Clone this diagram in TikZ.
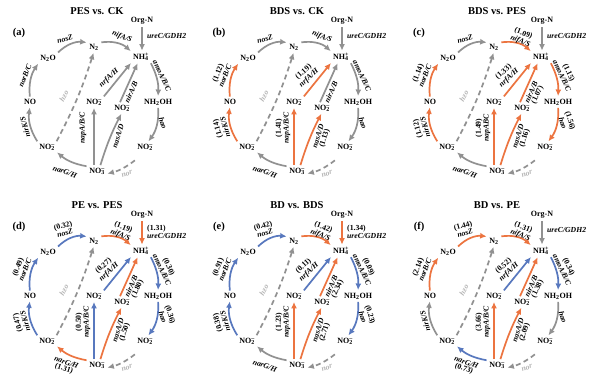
\documentclass[tikz,border=0pt]{standalone}
\usepackage{fontspec}
\setmainfont{Liberation Serif}
\usetikzlibrary{arrows.meta}
\definecolor{gr}{RGB}{145,145,145}
\definecolor{lgr}{RGB}{180,180,180}
\definecolor{org}{RGB}{236,116,64}
\definecolor{blu}{RGB}{88,120,190}
\newcommand\ssp[2]{\rlap{\textsubscript{#1}}\textsuperscript{#2}}
\newcommand\arr[3]{\tikzset{k-#1/.style={draw=#2}}\expandafter\def\csname av#1\endcsname{#3}}
\newcommand\resetarr{\arr{nosZ}{gr}{}\arr{nif}{gr}{}\arr{ure}{gr}{}\arr{amo}{gr}{}\arr{hao}{gr}{}\arr{nar}{gr}{}\arr{nirK}{gr}{}\arr{norB}{gr}{}\arr{nap}{gr}{}\arr{nas}{gr}{}\arr{nrf}{gr}{}\arr{nirA}{gr}{}}
\newcommand\hv[1]{\expandafter\ifx\csname av#1\endcsname\empty 0\else 1\fi}
\newcommand\val[1]{\expandafter\ifx\csname av#1\endcsname\empty\else(\csname av#1\endcsname)\fi}
% value above (first line)
\newcommand\GA[6]{%
 \node[gl, rotate=#2] (g#1) at ({#3+#6*\hv{#1}*sin(#2)},{#4-#6*\hv{#1}*cos(#2)}) {#5};
 \node[vl, rotate=#2, anchor=south] (v#1) at (g#1.north) {\val{#1}};}
% value below (second line)
\newcommand\GB[6]{%
 \node[gl, rotate=#2] (g#1) at ({#3-#6*\hv{#1}*sin(#2)},{#4+#6*\hv{#1}*cos(#2)}) {#5};
 \node[vl, rotate=#2, anchor=north] (v#1) at (g#1.south) {\val{#1}};}
\tikzset{
 nd/.style={font=\fontsize{8}{9}\selectfont\bfseries, inner sep=1pt},
 gl/.style={font=\fontsize{7.7}{8.4}\selectfont\bfseries\itshape, inner sep=0pt},
 vl/.style={font=\fontsize{7.7}{8.4}\selectfont\bfseries, inner sep=0.6pt},
 ttl/.style={font=\fontsize{10.5}{12}\selectfont\bfseries, inner sep=0pt},
 ar/.style={line width=1.7pt, -{Latex[length=6.5pt,width=6pt]}, shorten >=1.5pt, shorten <=1.5pt},
 dsh/.style={ar, draw=gr, dash pattern=on 5pt off 3.5pt},
}
\newcommand\panel[5]{%
\begin{scope}[shift={(#1,-#2)}, name prefix=#4-]
 \node[ttl] (T) at (97,-11) {#3};
 \node[ttl] (L) at (19,-33) {(#4)};
 \node[nd] (OrgN) at (142,-21) {Org-N};
 \node[nd] (N2) at (94,-47) {N\textsubscript{2}};
 \node[nd] (NH4) at (141,-57) {NH\ssp{4}{+}};
 \node[nd] (N2O) at (48,-58) {N\textsubscript{2}O};
 \node[nd] (NO) at (30,-102) {NO};
 \node[nd] (NH2OH) at (158,-102) {NH\textsubscript{2}OH};
 \node[nd] (NO2a) at (94,-102) {NO\ssp{2}{–}};
 \node[nd] (NO2b) at (122,-108) {NO\ssp{2}{–}};
 \node[nd] (NO2c) at (47,-147) {NO\ssp{2}{–}};
 \node[nd] (NO2d) at (145,-147) {NO\ssp{2}{–}};
 \node[nd] (NO3) at (97,-171) {NO\ssp{3}{–}};
 \draw[ar,k-nosZ] (N2O.north east) to[bend left=25] (N2.north west);
 \draw[ar,k-nif] (N2.north east) to[bend left=25] (NH4.north west);
 \draw[ar,k-ure] (OrgN.south) -- (OrgN.south |- NH4.north);
 \draw[ar,k-amo] (NH4.south east) to[bend left=15] (NH2OH.north);
 \draw[ar,k-hao] (NH2OH.south) to[bend left=20] (NO2d.60);
 \draw[dsh] ([yshift=-8pt]NO2d.south west) to[bend left=12] ([yshift=-3pt]NO3.east);
 \draw[ar,k-nar] (NO3.north west) to[bend left=15] (NO2c.south east);
 \draw[ar,k-nirK] (NO2c.north west) to[bend left=20] (NO.south);
 \draw[ar,k-norB] (NO.north) to[bend left=20] (N2O.south west);
 \draw[dsh] (NO2c.north east) to[bend right=5] (N2.south);
 \draw[ar,k-nap] (NO3.north -| NO2a.south) -- (NO2a.south);
 \draw[ar,k-nas] ([xshift=3pt]NO3.north) to[bend left=5] (NO2b.south);
 \draw[ar,k-nrf] (NO2a.north east) -- (NH4.south west);
 \draw[ar,k-nirA] (NO2b.120) -- (NH4.240);
 \GA{nosZ}{15}{65}{-39}{nosZ}{0}
 \GA{nif}{-22}{122}{-37}{nifA/S}{4.5}
 \node[gl, anchor=west] (gure) at (147,{-36-6*\hv{ure}}) {ureC/GDH2};
 \node[vl, anchor=south west, inner xsep=0pt] (vure) at (gure.north west) {\val{ure}};
 \GA{amo}{-65}{162}{-76}{amoA/B/C}{0}
 \GA{hao}{-72}{163}{-123}{hao}{0}
 \node[gl, rotate=18, text=lgr] (gnor) at (127,-174) {nor};
 \GB{nar}{-20}{65}{-172}{narG/H}{4}
 \GA{nirK}{105}{25}{-127}{nirK/S}{0}
 \GA{norB}{68}{25}{-76}{norB/C}{0}
 \node[gl, rotate=62, text=lgr] (ghzo) at (64,-96) {hzo};
 \GA{nap}{90}{83}{-128}{#5}{4}
 \GB{nas}{72}{118}{-136}{nasA/D}{0}
 \GA{nrf}{42}{109}{-78}{nrfA/H}{0}
 \GB{nirA}{65}{131}{-92}{nirA/B}{0}
\end{scope}}
\begin{document}
\begin{tikzpicture}[x=1pt,y=1pt]
\useasboundingbox[fill=white] (0,0) rectangle (600,-388);
\resetarr
\panel{0}{0}{PES vs. CK}{a}{napA/B/C}
\resetarr
\arr{norB}{org}{1.12}\arr{nirK}{org}{1.14}\arr{nrf}{org}{1.19}\arr{nap}{org}{1.41}\arr{nas}{org}{1.13}
\panel{200}{0}{BDS vs. CK}{b}{napA/B/C}
\resetarr
\arr{nif}{org}{1.09}\arr{norB}{org}{1.14}\arr{nirK}{org}{1.12}\arr{nrf}{org}{1.33}\arr{nirA}{org}{1.07}\arr{amo}{org}{1.15}\arr{hao}{org}{1.56}\arr{nap}{org}{1.49}\arr{nas}{org}{1.16}
\panel{400}{0}{BDS vs. PES}{c}{napABC}
\resetarr
\arr{nosZ}{blu}{0.32}\arr{nif}{org}{1.19}\arr{ure}{org}{1.31}\arr{norB}{blu}{0.49}\arr{nirK}{blu}{0.47}\arr{nrf}{blu}{0.27}\arr{nirA}{org}{1.80}\arr{amo}{blu}{0.30}\arr{hao}{blu}{0.36}\arr{nap}{blu}{0.50}\arr{nas}{org}{1.50}\arr{nar}{org}{1.31}
\panel{0}{194}{PE vs. PES}{d}{napA/B/C}
\resetarr
\arr{nosZ}{blu}{0.42}\arr{nif}{org}{1.42}\arr{ure}{org}{1.34}\arr{norB}{blu}{0.91}\arr{nirK}{blu}{0.38}\arr{nrf}{blu}{0.11}\arr{nirA}{org}{2.34}\arr{amo}{blu}{0.09}\arr{hao}{blu}{0.23}\arr{nap}{org}{1.23}\arr{nas}{org}{2.71}
\panel{200}{194}{BD vs. BDS}{e}{napA/B/C}
\resetarr
\arr{nosZ}{org}{1.44}\arr{nif}{org}{1.31}\arr{norB}{org}{2.14}\arr{nrf}{blu}{0.52}\arr{nirA}{org}{1.38}\arr{amo}{blu}{0.34}\arr{nap}{org}{3.66}\arr{nas}{org}{2.09}\arr{nar}{blu}{0.73}
\panel{400}{194}{BD vs. PE}{f}{napA/B/C}
\end{tikzpicture}
\end{document}
